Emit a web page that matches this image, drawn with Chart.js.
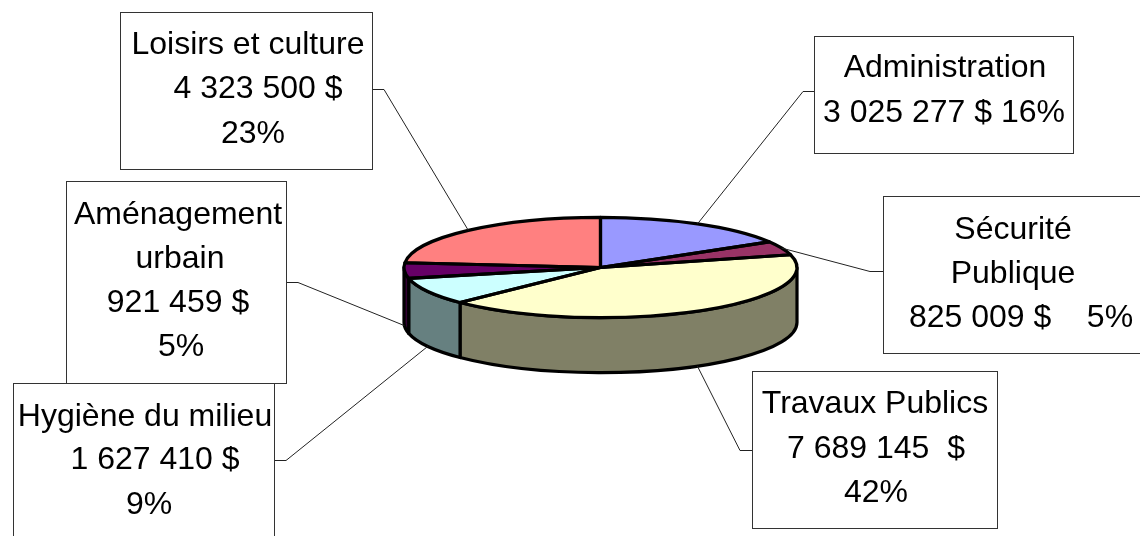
<!DOCTYPE html>
<html>
<head>
<meta charset="utf-8">
<title>Budget</title>
<script src="https://cdn.jsdelivr.net/npm/chart.js@4"></script>
<style>
    html, body { margin: 0; padding: 0; background: #fff; overflow: hidden; }
    canvas { display: block; }
</style>
</head>
<body>
<canvas id="budgetChart" width="1140" height="536"></canvas>
<script>
const categories = ["Administration", "Sécurité Publique", "Travaux Publics", "Hygiène du milieu", "Aménagement urbain", "Loisirs et culture"];
const amounts = [3025277, 825009, 7689145, 1627410, 921459, 4323500];
const sliceColors = ["#9999FF", "#993366", "#FFFFCC", "#CCFFFF", "#660066", "#FF8080"];
const wallColors = ["#4D4D80", "#4D1A33", "#808066", "#668080", "#330033", "#804040"];

// text of each label, line by line
const labelLines = [
    ["Administration", "3 025 277 $ 16%"],
    ["Sécurité", "Publique", "825 009 $    5%"],
    ["Travaux Publics", "7 689 145  $", "42%"],
    ["Hygiène du milieu", "1 627 410 $", "9%"],
    ["Aménagement", "urbain", "921 459 $", "5%"],
    ["Loisirs et culture", "4 323 500 $", "23%"]
];

// box = [left, top, right, bottom], elbow = [box side x, elbow x, y]
const labelBoxes = [
    { box: [814, 36, 1073, 153], elbow: [814, 803, 91], xs: [945, 944], ys: [68, 113] },
    { box: [883, 196, 1141, 353], elbow: [883, 870, 271], xs: [1013, 1013, 1021], ys: [230, 274, 318] },
    { box: [752, 371, 997, 528], elbow: [752, 740, 450], xs: [875, 876, 876], ys: [404, 449, 493] },
    { box: [13, 383, 274, 560], elbow: [274, 286, 460], xs: [145, 155, 149], ys: [417, 460, 505] },
    { box: [66, 181, 286, 383], elbow: [286, 298, 282], xs: [178, 180, 178, 181], ys: [215, 259, 303, 347] },
    { box: [120, 12, 372, 169], elbow: [372, 384, 89], xs: [248, 258, 253], ys: [45, 89, 134] }
];

const squash = 50 / 196; // height / width of the top ellipse
const depth = 55;        // height of the wall
const edgeWidth = 3.2;

function arcPath(ctx, arc, from, to) {
    const ry = arc.outerRadius * squash;
    ctx.ellipse(arc.x, arc.y, arc.outerRadius, ry, 0, from, to);
}

const pie3d = {
    id: "pie3d",
    beforeDatasetsDraw(chart) {
        const ctx = chart.ctx;
        const arcs = chart.getDatasetMeta(0).data;
        ctx.save();
        ctx.strokeStyle = "#000";
        ctx.lineWidth = edgeWidth;
        ctx.lineJoin = "round";
        // wall pieces, only the front half of the pie shows
        arcs.forEach((arc, i) => {
            const from = Math.max(arc.startAngle, 0);
            const to = Math.min(arc.endAngle, Math.PI);
            if (to <= from) return;
            const ry = arc.outerRadius * squash;
            ctx.beginPath();
            arcPath(ctx, arc, from, to);
            ctx.lineTo(arc.x + arc.outerRadius * Math.cos(to), arc.y + ry * Math.sin(to) + depth);
            ctx.ellipse(arc.x, arc.y + depth, arc.outerRadius, ry, 0, to, from, true);
            ctx.closePath();
            ctx.fillStyle = wallColors[i];
            ctx.fill();
            ctx.stroke();
        });
        ctx.restore();
        // flatten the library's round pie into the top ellipse
        const a = arcs[0];
        ctx.save();
        ctx.translate(a.x, a.y);
        ctx.scale(1, squash);
        ctx.translate(-a.x, -a.y);
    },
    afterDatasetsDraw(chart) {
        const ctx = chart.ctx;
        const arcs = chart.getDatasetMeta(0).data;
        ctx.restore();
        ctx.save();
        ctx.strokeStyle = "#000";
        ctx.lineWidth = edgeWidth;
        ctx.lineJoin = "round";
        arcs.forEach(arc => {
            ctx.beginPath();
            ctx.moveTo(arc.x, arc.y);
            arcPath(ctx, arc, arc.startAngle, arc.endAngle);
            ctx.closePath();
            ctx.stroke();
        });
        ctx.restore();
    },
    afterDraw(chart) {
        const ctx = chart.ctx;
        const arcs = chart.getDatasetMeta(0).data;
        ctx.save();
        // leader lines go from the box to the rim of the slice
        ctx.strokeStyle = "#222";
        ctx.lineWidth = 1;
        arcs.forEach((arc, i) => {
            const mid = (arc.startAngle + arc.endAngle) / 2;
            const e = labelBoxes[i].elbow;
            let y = arc.y + arc.outerRadius * squash * Math.sin(mid);
            if (Math.sin(mid) >= 0) y += depth;
            ctx.beginPath();
            ctx.moveTo(e[0], e[2] + 0.5);
            ctx.lineTo(e[1], e[2] + 0.5);
            ctx.lineTo(arc.x + arc.outerRadius * Math.cos(mid), y);
            ctx.stroke();
        });
        // boxes and their text
        ctx.font = "32px 'Liberation Sans', Arial, sans-serif";
        ctx.textAlign = "center";
        ctx.textBaseline = "middle";
        labelBoxes.forEach((l, i) => {
            const [x0, y0, x1, y1] = l.box;
            ctx.fillStyle = "#fff";
            ctx.fillRect(x0, y0, x1 - x0, y1 - y0);
            ctx.strokeStyle = "#333";
            ctx.strokeRect(x0 + 0.5, y0 + 0.5, x1 - x0, y1 - y0);
            ctx.fillStyle = "#000";
            labelLines[i].forEach((line, j) => ctx.fillText(line, l.xs[j], l.ys[j]));
        });
        ctx.restore();
    }
};

new Chart(document.getElementById("budgetChart"), {
    type: "pie",
    data: {
        labels: categories,
        datasets: [{ data: amounts, backgroundColor: sliceColors, borderWidth: 0 }]
    },
    options: {
        responsive: false,
        animation: false,
        devicePixelRatio: 1,
        layout: { padding: { left: 404, right: 343, top: 71, bottom: 72 } },
        plugins: { legend: { display: false }, tooltip: { enabled: false } }
    },
    plugins: [pie3d]
});
</script>
</body>
</html>
